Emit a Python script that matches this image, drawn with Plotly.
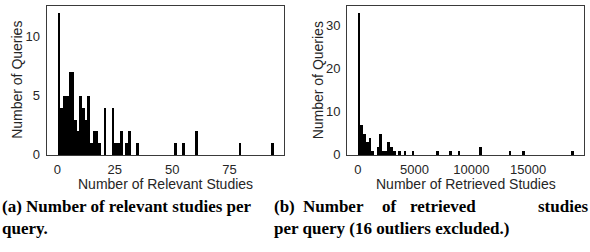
import numpy as np
import plotly.graph_objects as go

W, H = 590, 252

# ---------------- data ----------------
# (a) Number of relevant studies per query: histogram, 80 equal bins over the value range
relevant_range = (0, 94)
relevant_counts = [12, 4, 5, 5, 7, 7, 3, 2, 5, 4,
                   3, 5, 1, 2, 2, 1, 0, 4, 0, 0,
                   4, 1, 1, 2, 0, 1, 2, 0, 0, 1,
                   0, 0, 0, 0, 0, 0, 0, 0, 0, 0,
                   0, 0, 0, 1, 0, 0, 1, 0, 0, 0,
                   0, 2, 0, 0, 0, 0, 0, 0, 0, 0,
                   0, 0, 0, 0, 0, 0, 0, 1, 0, 0,
                   0, 0, 0, 0, 0, 0, 0, 0, 0, 1]
relevant_xticks = [0, 25, 50, 75]
relevant_yticks = [0, 5, 10]

# (b) Number of retrieved studies per query (16 outliers excluded): 80 equal bins
retrieved_range = (0, 19000)
retrieved_counts = [33, 7, 5, 3, 4, 1, 0, 2, 5, 1,
                    1, 3, 2, 1, 0, 1, 0, 1, 0, 0,
                    1, 0, 0, 0, 0, 0, 0, 0, 0, 1,
                    0, 0, 0, 0, 1, 0, 0, 1, 0, 0,
                    0, 0, 0, 0, 0, 2, 0, 0, 0, 0,
                    0, 0, 0, 0, 0, 0, 1, 0, 0, 0,
                    0, 1, 0, 0, 0, 0, 0, 0, 0, 0,
                    0, 0, 0, 0, 0, 0, 0, 0, 0, 1]
retrieved_xticks = [0, 5000, 10000, 15000]
retrieved_yticks = [0, 10, 20, 30]

x_titles = ["Number of Relevant Studies", "Number of Retrieved Studies"]
y_title = "Number of Queries"

# ---------------- helpers ----------------
def px(x):
    return x / W

def py(y):
    return 1 - y / H

def edges(rng, counts):
    return np.linspace(rng[0], rng[1], len(counts) + 1)

def padded(rng, frac=0.05):
    span = rng[1] - rng[0]
    return [rng[0] - frac * span, rng[1] + frac * span]

TXT = "#262626"
FRAME = "#3a3a3a"
SANS = "Liberation Sans, Arial, sans-serif"
SERIF = "Liberation Serif, Times New Roman, serif"

fig = go.Figure()

for i, (rng, counts) in enumerate([(relevant_range, relevant_counts),
                                     (retrieved_range, retrieved_counts)]):
    e = edges(rng, counts)
    bw = e[1] - e[0]
    fig.add_trace(go.Bar(
        x=e[:-1], y=counts, width=bw, offset=0,
        marker=dict(color="black", line=dict(width=0)),
        xaxis="x" if i == 0 else "x2",
        yaxis="y" if i == 0 else "y2",
        showlegend=False, hoverinfo="skip",
    ))

ybot, ytop = 160, 6
axis_common = dict(showline=True, mirror=True, linecolor=FRAME, linewidth=1,
                   showgrid=False, zeroline=False, ticks="",
                   tickfont=dict(family=SANS, size=13, color=TXT))

fig.update_layout(
    width=W, height=H,
    margin=dict(l=0, r=0, t=0, b=0),
    paper_bgcolor="white", plot_bgcolor="white",
    bargap=0,
    xaxis=dict(domain=[px(46.5), px(284)], range=padded(relevant_range),
               tickvals=relevant_xticks, ticklabelstandoff=2, anchor="y", **axis_common),
    yaxis=dict(domain=[py(ybot), py(ytop)], range=[0, max(relevant_counts) * 1.05],
               tickvals=relevant_yticks, ticklabelstandoff=3, anchor="x", **axis_common),
    xaxis2=dict(domain=[px(347), px(584.3)], range=padded(retrieved_range),
                tickvals=retrieved_xticks, tickformat="d", ticklabelstandoff=2,
                anchor="y2", **axis_common),
    yaxis2=dict(domain=[py(ybot), py(ytop)], range=[0, max(retrieved_counts) * 1.05],
                tickvals=retrieved_yticks, ticklabelstandoff=3, anchor="x2", **axis_common),
)

ann = []
P = dict(xref="paper", yref="paper", showarrow=False, borderpad=0)
# axis titles
for cx, t in zip([(46.5 + 284) / 2, (347 + 584.3) / 2], x_titles):
    ann.append(dict(x=px(cx), y=py(190), text=t, xanchor="center",
                    yanchor="middle", font=dict(family=SANS, size=14, color=TXT), **P))
for cx in [17.5, 318]:
    ann.append(dict(x=px(cx), y=py(83), text=y_title, textangle=-90,
                    xanchor="center", yanchor="middle",
                    font=dict(family=SANS, size=14, color=TXT), **P))

# captions
cap_font = dict(family=SERIF, size=17, color="black")
ann.append(dict(x=px(1), y=py(213), text="<b>(a) Number of relevant studies per</b>",
                xanchor="left", yanchor="middle", font=cap_font, **P))
ann.append(dict(x=px(1), y=py(236), text="<b>query.</b>",
                xanchor="left", yanchor="middle", font=cap_font, **P))
# justified first line of caption (b)
for word, x, anchor in [("(b)", 272.5, "left"), ("Number", 301.7, "left"),
                        ("of", 381, "left"), ("retrieved", 409.3, "left"),
                        ("studies", 589, "right")]:
    ann.append(dict(x=px(x), y=py(213), text=f"<b>{word}</b>",
                    xanchor=anchor, yanchor="middle", font=cap_font, **P))
ann.append(dict(x=px(272.5), y=py(236), text="<b>per query (16 outliers excluded.)</b>",
                xanchor="left", yanchor="middle", font=cap_font, **P))

fig.update_layout(annotations=ann)

fig.write_html("out.html", config={"displayModeBar": False},
               post_script="document.body.style.margin='0';document.body.style.padding='0';")
